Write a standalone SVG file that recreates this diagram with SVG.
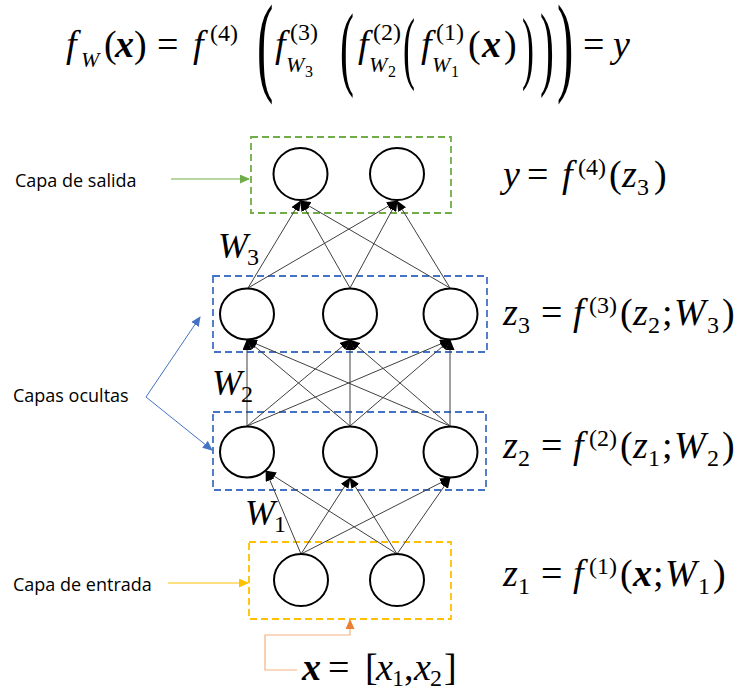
<svg xmlns="http://www.w3.org/2000/svg" width="743" height="689" viewBox="0 0 743 689">
<style>
.t{font-family:"Liberation Serif",serif;font-size:38px;fill:#000}
.m{font-family:"Liberation Serif",serif;font-size:38px;fill:#000}
.i{font-style:italic}
.b{font-weight:bold;font-style:italic}
.s{font-size:24px}
.ss{font-size:24px}
.sw{font-size:22px;font-style:italic}
.sss{font-size:16px}
.lab{font-family:"Open Sans",sans-serif;font-size:18px;fill:#000}
.node{fill:#fff;stroke:#000;stroke-width:2}
.conn line{stroke:#404040;stroke-width:1;marker-end:url(#ah)}
.box{fill:none;stroke-width:1.8;stroke-dasharray:7 4}
</style>
<defs>
<marker id="ah" markerWidth="11" markerHeight="9" refX="10" refY="4.5" orient="auto" markerUnits="userSpaceOnUse"><path d="M0,0 L11,4.5 L0,9 z" fill="#000"/></marker>
<marker id="ag" markerWidth="10" markerHeight="9" refX="9" refY="4.5" orient="auto" markerUnits="userSpaceOnUse"><path d="M0,0 L10,4.5 L0,9 z" fill="#70AD47"/></marker>
<marker id="ay" markerWidth="10" markerHeight="9" refX="9" refY="4.5" orient="auto" markerUnits="userSpaceOnUse"><path d="M0,0 L10,4.5 L0,9 z" fill="#FFC000"/></marker>
<marker id="ab" markerWidth="10" markerHeight="9" refX="9" refY="4.5" orient="auto" markerUnits="userSpaceOnUse"><path d="M0,0 L10,4.5 L0,9 z" fill="#4472C4"/></marker>
<marker id="ao" markerWidth="10" markerHeight="9" refX="9" refY="4.5" orient="auto" markerUnits="userSpaceOnUse"><path d="M0,0 L10,4.5 L0,9 z" fill="#ED7D31"/></marker>
</defs>

<g id="formula">
<text class="t i" x="66" y="57">f</text>
<text class="t sw" x="81" y="67">W</text>
<text class="t" x="104" y="57">(</text>
<text class="t b" x="115" y="57">x</text>
<text class="t" x="134" y="57">)</text>
<text class="t" x="157" y="57">=</text>
<text class="t i" x="193" y="57">f</text>
<text class="t ss" x="210" y="41">(4)</text>
<text class="t" transform="translate(257,81) scale(0.45,1)" style="font-size:109px">(</text>
<text class="t i" x="275" y="57">f</text>
<text class="t ss" x="290" y="40">(3)</text>
<text class="t sw" x="286" y="72">W</text>
<text class="t sss" x="305" y="77">3</text>
<text class="t" transform="translate(340,77.5) scale(0.45,1)" style="font-size:93px">(</text>
<text class="t i" x="358" y="57">f</text>
<text class="t ss" x="373" y="40">(2)</text>
<text class="t sw" x="369" y="72">W</text>
<text class="t sss" x="388" y="77">2</text>
<text class="t" transform="translate(403,74) scale(0.45,1)" style="font-size:80px">(</text>
<text class="t i" x="421" y="57">f</text>
<text class="t ss" x="436" y="40">(1)</text>
<text class="t sw" x="432" y="72">W</text>
<text class="t sss" x="451" y="77">1</text>
<text class="t" x="468" y="57">(</text>
<text class="t b" x="482" y="57">x</text>
<text class="t" x="504" y="57">)</text>
<text class="t" transform="translate(522,74) scale(0.45,1)" style="font-size:80px">)</text>
<text class="t" transform="translate(540,77.5) scale(0.45,1)" style="font-size:93px">)</text>
<text class="t" transform="translate(557,81) scale(0.45,1)" style="font-size:109px">)</text>
<text class="t" x="583" y="57">=</text>
<text class="t i" x="613" y="57">y</text>
</g>

<g id="layer-output">
<rect class="box" x="251" y="137" width="200" height="76" stroke="#70AD47"/>
</g>
<g id="layer-hidden3">
<rect class="box" x="213" y="276" width="274" height="76" stroke="#4472C4"/>
</g>
<g id="layer-hidden2">
<rect class="box" x="213" y="412" width="273" height="78" stroke="#4472C4"/>
</g>
<g id="layer-input">
<rect class="box" x="249" y="542" width="202" height="77" stroke="#FFC000"/>
</g>

<g id="connectors">
<g class="conn">
<line x1="248" y1="288" x2="300.5" y2="201"/>
<line x1="248" y1="288" x2="397" y2="201"/>
<line x1="350" y1="288" x2="300.5" y2="201"/>
<line x1="350" y1="288" x2="397" y2="201"/>
<line x1="450" y1="288" x2="300.5" y2="201"/>
<line x1="450" y1="288" x2="397" y2="201"/>
<line x1="247" y1="426" x2="247" y2="340"/>
<line x1="247" y1="426" x2="350" y2="340"/>
<line x1="247" y1="426" x2="450" y2="340"/>
<line x1="350" y1="426" x2="247" y2="340"/>
<line x1="350" y1="426" x2="350" y2="340"/>
<line x1="350" y1="426" x2="450" y2="340"/>
<line x1="450" y1="426" x2="247" y2="340"/>
<line x1="450" y1="426" x2="350" y2="340"/>
<line x1="450" y1="426" x2="450" y2="340"/>
<line x1="301" y1="554" x2="266" y2="471"/>
<line x1="301" y1="554" x2="350" y2="478"/>
<line x1="301" y1="554" x2="450" y2="478"/>
<line x1="397" y1="554" x2="266" y2="471"/>
<line x1="397" y1="554" x2="350" y2="478"/>
<line x1="397" y1="554" x2="450" y2="478"/>
</g>
<line x1="171" y1="179" x2="249" y2="179" stroke="#70AD47" stroke-width="1.2" marker-end="url(#ag)"/>
<line x1="168" y1="583" x2="248" y2="583" stroke="#FFC000" stroke-width="1.2" marker-end="url(#ay)"/>
<line x1="146" y1="397" x2="200" y2="317" stroke="#4472C4" stroke-width="1" marker-end="url(#ab)"/>
<line x1="146" y1="397" x2="212" y2="450" stroke="#4472C4" stroke-width="1" marker-end="url(#ab)"/>
<polyline points="297,670 265,670 265,635 350,635 350,620" fill="none" stroke="#F4B183" stroke-width="1.2" marker-end="url(#ao)"/>
</g>

<g id="out1"><ellipse class="node" cx="300.5" cy="174" rx="27" ry="26"/></g>
<g id="out2"><ellipse class="node" cx="397" cy="174" rx="27" ry="26"/></g>
<g id="h3n1"><ellipse class="node" cx="247" cy="314" rx="27" ry="25.5"/></g>
<g id="h3n2"><ellipse class="node" cx="350" cy="314" rx="27" ry="25.5"/></g>
<g id="h3n3"><ellipse class="node" cx="450.5" cy="314" rx="27" ry="25.5"/></g>
<g id="h2n1"><ellipse class="node" cx="247" cy="452" rx="27" ry="25.5"/></g>
<g id="h2n2"><ellipse class="node" cx="350" cy="452" rx="27" ry="25.5"/></g>
<g id="h2n3"><ellipse class="node" cx="450.5" cy="452" rx="27" ry="25.5"/></g>
<g id="in1"><ellipse class="node" cx="301" cy="580" rx="27" ry="26"/></g>
<g id="in2"><ellipse class="node" cx="397" cy="580" rx="27" ry="26"/></g>

<g id="labels">
<text class="lab" x="15" y="187">Capa de salida</text>
<text class="lab" x="13" y="402">Capas ocultas</text>
<text class="lab" x="13" y="591">Capa de entrada</text>
<text class="m i" x="218" y="258" style="font-size:36px">W</text><text class="m s" x="247" y="265">3</text>
<text class="m i" x="212" y="395" style="font-size:36px">W</text><text class="m s" x="241" y="402">2</text>
<text class="m i" x="245" y="525" style="font-size:36px">W</text><text class="m s" x="274" y="532">1</text>
</g>

<g id="equations">
<text class="m i" x="503" y="187">y</text>
<text class="m" x="527" y="187">=</text>
<text class="m i" x="562" y="187">f</text>
<text class="m s" x="578" y="175">(4)</text>
<text class="m" x="609" y="187">(</text>
<text class="m i" x="622" y="187">z</text>
<text class="m s" x="637" y="195">3</text>
<text class="m" x="654" y="187">)</text>

<text class="m i" x="503" y="325">z</text>
<text class="m s" x="518" y="333">3</text>
<text class="m" x="541" y="325">=</text>
<text class="m i" x="573" y="325">f</text>
<text class="m s" x="589" y="313">(3)</text>
<text class="m" x="620" y="325">(</text>
<text class="m i" x="633" y="325">z</text>
<text class="m s" x="648" y="333">2</text>
<text class="m" x="662" y="325">;</text>
<text class="m i" x="674" y="325">W</text>
<text class="m s" x="707" y="333">3</text>
<text class="m" x="722" y="325">)</text>

<text class="m i" x="503" y="458">z</text>
<text class="m s" x="518" y="466">2</text>
<text class="m" x="541" y="458">=</text>
<text class="m i" x="573" y="458">f</text>
<text class="m s" x="589" y="446">(2)</text>
<text class="m" x="620" y="458">(</text>
<text class="m i" x="633" y="458">z</text>
<text class="m s" x="648" y="466">1</text>
<text class="m" x="662" y="458">;</text>
<text class="m i" x="674" y="458">W</text>
<text class="m s" x="707" y="466">2</text>
<text class="m" x="722" y="458">)</text>

<text class="m i" x="503" y="586">z</text>
<text class="m s" x="518" y="594">1</text>
<text class="m" x="541" y="586">=</text>
<text class="m i" x="573" y="586">f</text>
<text class="m s" x="589" y="574">(1)</text>
<text class="m" x="620" y="586">(</text>
<text class="m b" x="633" y="586">x</text>
<text class="m" x="653" y="586">;</text>
<text class="m i" x="665" y="586">W</text>
<text class="m s" x="698" y="594">1</text>
<text class="m" x="713" y="586">)</text>

<text class="m b" x="302" y="680">x</text>
<text class="m" x="328" y="680">=</text>
<text class="m" x="365" y="680">[</text>
<text class="m i" x="376" y="680">x</text>
<text class="m s" x="392" y="686">1</text>
<text class="m" x="404" y="680">,</text>
<text class="m i" x="414" y="680">x</text>
<text class="m s" x="430" y="686">2</text>
<text class="m" x="444" y="680">]</text>
</g>
</svg>
